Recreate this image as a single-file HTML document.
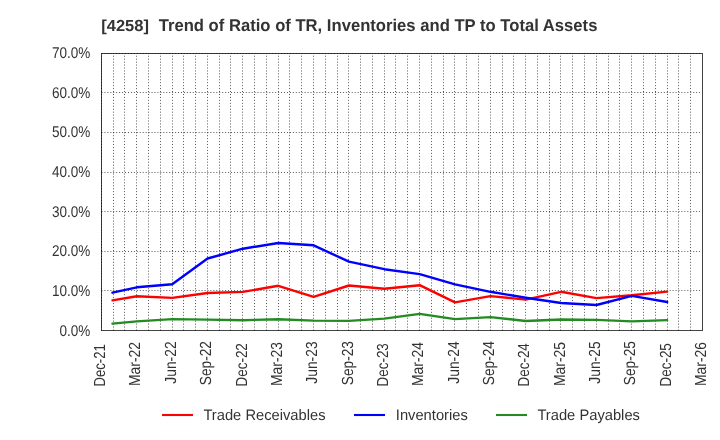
<!DOCTYPE html>
<html><head><meta charset="utf-8"><style>
html,body{margin:0;padding:0;background:#fff;overflow:hidden;}
svg{display:block;}
text{font-family:"Liberation Sans",sans-serif;fill:#333;filter:grayscale(1);text-rendering:geometricPrecision;}
.t{font-size:15.55px;}
.lg{font-size:15.1px;}
.g{stroke:#000;stroke-opacity:0.67;stroke-width:1;stroke-dasharray:0.981 1.963;fill:none;}
.d{fill:none;stroke-width:2.4;stroke-linejoin:round;stroke-linecap:round;}
</style></head><body>
<svg width="720" height="440" viewBox="0 0 720 440">
<rect width="720" height="440" fill="#fff"/>
<text x="101.3" y="30.5" textLength="47.6" lengthAdjust="spacingAndGlyphs" style="font-size:16px;font-weight:bold;">[4258]</text>
<text x="158.7" y="30.5" textLength="438.7" lengthAdjust="spacingAndGlyphs" style="font-size:17px;font-weight:bold;">Trend of Ratio of TR, Inventories and TP to Total Assets</text>
<rect x="101.5" y="53.5" width="601" height="277" fill="none" stroke="#444" stroke-width="1"/>
<line x1="101.5" y1="290.5" x2="702" y2="290.5" class="g"/>
<line x1="101.5" y1="251.5" x2="702" y2="251.5" class="g"/>
<line x1="101.5" y1="211.5" x2="702" y2="211.5" class="g"/>
<line x1="101.5" y1="172.5" x2="702" y2="172.5" class="g"/>
<line x1="101.5" y1="132.5" x2="702" y2="132.5" class="g"/>
<line x1="101.5" y1="92.5" x2="702" y2="92.5" class="g"/>
<line x1="101.5" y1="53.5" x2="702" y2="53.5" class="g"/>
<line x1="101.5" y1="330.5" x2="101.5" y2="53.5" class="g"/>
<line x1="113.5" y1="330.5" x2="113.5" y2="53.5" class="g"/>
<line x1="124.5" y1="330.5" x2="124.5" y2="53.5" class="g"/>
<line x1="136.5" y1="330.5" x2="136.5" y2="53.5" class="g"/>
<line x1="148.5" y1="330.5" x2="148.5" y2="53.5" class="g"/>
<line x1="160.5" y1="330.5" x2="160.5" y2="53.5" class="g"/>
<line x1="172.5" y1="330.5" x2="172.5" y2="53.5" class="g"/>
<line x1="183.5" y1="330.5" x2="183.5" y2="53.5" class="g"/>
<line x1="195.5" y1="330.5" x2="195.5" y2="53.5" class="g"/>
<line x1="207.5" y1="330.5" x2="207.5" y2="53.5" class="g"/>
<line x1="219.5" y1="330.5" x2="219.5" y2="53.5" class="g"/>
<line x1="230.5" y1="330.5" x2="230.5" y2="53.5" class="g"/>
<line x1="242.5" y1="330.5" x2="242.5" y2="53.5" class="g"/>
<line x1="254.5" y1="330.5" x2="254.5" y2="53.5" class="g"/>
<line x1="266.5" y1="330.5" x2="266.5" y2="53.5" class="g"/>
<line x1="278.5" y1="330.5" x2="278.5" y2="53.5" class="g"/>
<line x1="289.5" y1="330.5" x2="289.5" y2="53.5" class="g"/>
<line x1="301.5" y1="330.5" x2="301.5" y2="53.5" class="g"/>
<line x1="313.5" y1="330.5" x2="313.5" y2="53.5" class="g"/>
<line x1="325.5" y1="330.5" x2="325.5" y2="53.5" class="g"/>
<line x1="337.5" y1="330.5" x2="337.5" y2="53.5" class="g"/>
<line x1="348.5" y1="330.5" x2="348.5" y2="53.5" class="g"/>
<line x1="360.5" y1="330.5" x2="360.5" y2="53.5" class="g"/>
<line x1="372.5" y1="330.5" x2="372.5" y2="53.5" class="g"/>
<line x1="384.5" y1="330.5" x2="384.5" y2="53.5" class="g"/>
<line x1="395.5" y1="330.5" x2="395.5" y2="53.5" class="g"/>
<line x1="407.5" y1="330.5" x2="407.5" y2="53.5" class="g"/>
<line x1="419.5" y1="330.5" x2="419.5" y2="53.5" class="g"/>
<line x1="431.5" y1="330.5" x2="431.5" y2="53.5" class="g"/>
<line x1="443.5" y1="330.5" x2="443.5" y2="53.5" class="g"/>
<line x1="454.5" y1="330.5" x2="454.5" y2="53.5" class="g"/>
<line x1="466.5" y1="330.5" x2="466.5" y2="53.5" class="g"/>
<line x1="478.5" y1="330.5" x2="478.5" y2="53.5" class="g"/>
<line x1="490.5" y1="330.5" x2="490.5" y2="53.5" class="g"/>
<line x1="502.5" y1="330.5" x2="502.5" y2="53.5" class="g"/>
<line x1="513.5" y1="330.5" x2="513.5" y2="53.5" class="g"/>
<line x1="525.5" y1="330.5" x2="525.5" y2="53.5" class="g"/>
<line x1="537.5" y1="330.5" x2="537.5" y2="53.5" class="g"/>
<line x1="549.5" y1="330.5" x2="549.5" y2="53.5" class="g"/>
<line x1="560.5" y1="330.5" x2="560.5" y2="53.5" class="g"/>
<line x1="572.5" y1="330.5" x2="572.5" y2="53.5" class="g"/>
<line x1="584.5" y1="330.5" x2="584.5" y2="53.5" class="g"/>
<line x1="596.5" y1="330.5" x2="596.5" y2="53.5" class="g"/>
<line x1="608.5" y1="330.5" x2="608.5" y2="53.5" class="g"/>
<line x1="619.5" y1="330.5" x2="619.5" y2="53.5" class="g"/>
<line x1="631.5" y1="330.5" x2="631.5" y2="53.5" class="g"/>
<line x1="643.5" y1="330.5" x2="643.5" y2="53.5" class="g"/>
<line x1="655.5" y1="330.5" x2="655.5" y2="53.5" class="g"/>
<line x1="667.5" y1="330.5" x2="667.5" y2="53.5" class="g"/>
<line x1="678.5" y1="330.5" x2="678.5" y2="53.5" class="g"/>
<line x1="690.5" y1="330.5" x2="690.5" y2="53.5" class="g"/>
<polyline points="112.50,300.40 136.85,296.20 172.21,297.90 207.56,293.00 242.91,291.90 278.26,285.80 313.62,296.90 348.97,285.50 384.32,288.70 419.68,285.20 455.03,302.40 490.38,296.10 525.74,299.60 561.09,291.80 596.44,298.10 631.79,295.30 667.15,291.60" stroke="#ff0000" class="d"/>
<polyline points="112.50,292.70 136.85,287.30 172.21,284.20 207.56,258.50 242.91,248.70 278.26,243.00 313.62,245.30 348.97,261.70 384.32,269.20 419.68,274.10 455.03,284.30 490.38,291.80 525.74,297.80 561.09,303.00 596.44,305.00 631.79,295.90 667.15,302.00" stroke="#0000ff" class="d"/>
<polyline points="112.50,323.60 136.85,321.40 172.21,319.10 207.56,319.60 242.91,320.20 278.26,319.20 313.62,320.60 348.97,320.90 384.32,318.60 419.68,313.90 455.03,319.10 490.38,317.10 525.74,321.00 561.09,319.50 596.44,319.90 631.79,321.40 667.15,320.10" stroke="#228b22" class="d"/>
<g style="filter:grayscale(1)">
<text transform="translate(90.3,336.1) scale(0.87,1)" text-anchor="end" class="t">0.0%</text>
<text transform="translate(90.3,295.7) scale(0.87,1)" text-anchor="end" class="t">10.0%</text>
<text transform="translate(90.3,256.2) scale(0.87,1)" text-anchor="end" class="t">20.0%</text>
<text transform="translate(90.3,216.6) scale(0.87,1)" text-anchor="end" class="t">30.0%</text>
<text transform="translate(90.3,177.0) scale(0.87,1)" text-anchor="end" class="t">40.0%</text>
<text transform="translate(90.3,137.4) scale(0.87,1)" text-anchor="end" class="t">50.0%</text>
<text transform="translate(90.3,97.9) scale(0.87,1)" text-anchor="end" class="t">60.0%</text>
<text transform="translate(90.3,58.3) scale(0.87,1)" text-anchor="end" class="t">70.0%</text>
<text transform="translate(105.10,365.35) rotate(-90) scale(0.8174,1)" text-anchor="middle" style="font-size:16px">Dec-21</text>
<text transform="translate(140.45,364.00) rotate(-90) scale(0.8678,1)" text-anchor="middle" style="font-size:16px">Mar-22</text>
<text transform="translate(175.81,362.55) rotate(-90) scale(0.8653,1)" text-anchor="middle" style="font-size:16px">Jun-22</text>
<text transform="translate(211.16,363.15) rotate(-90) scale(0.8550,1)" text-anchor="middle" style="font-size:16px">Sep-22</text>
<text transform="translate(246.51,364.80) rotate(-90) scale(0.8379,1)" text-anchor="middle" style="font-size:16px">Dec-22</text>
<text transform="translate(281.86,364.00) rotate(-90) scale(0.8678,1)" text-anchor="middle" style="font-size:16px">Mar-23</text>
<text transform="translate(317.22,362.55) rotate(-90) scale(0.8653,1)" text-anchor="middle" style="font-size:16px">Jun-23</text>
<text transform="translate(352.57,363.15) rotate(-90) scale(0.8550,1)" text-anchor="middle" style="font-size:16px">Sep-23</text>
<text transform="translate(387.92,364.80) rotate(-90) scale(0.8379,1)" text-anchor="middle" style="font-size:16px">Dec-23</text>
<text transform="translate(423.28,364.00) rotate(-90) scale(0.8678,1)" text-anchor="middle" style="font-size:16px">Mar-24</text>
<text transform="translate(458.63,362.55) rotate(-90) scale(0.8653,1)" text-anchor="middle" style="font-size:16px">Jun-24</text>
<text transform="translate(493.98,363.15) rotate(-90) scale(0.8550,1)" text-anchor="middle" style="font-size:16px">Sep-24</text>
<text transform="translate(529.34,364.80) rotate(-90) scale(0.8379,1)" text-anchor="middle" style="font-size:16px">Dec-24</text>
<text transform="translate(564.69,364.00) rotate(-90) scale(0.8678,1)" text-anchor="middle" style="font-size:16px">Mar-25</text>
<text transform="translate(600.04,362.55) rotate(-90) scale(0.8653,1)" text-anchor="middle" style="font-size:16px">Jun-25</text>
<text transform="translate(635.39,363.15) rotate(-90) scale(0.8550,1)" text-anchor="middle" style="font-size:16px">Sep-25</text>
<text transform="translate(670.75,364.80) rotate(-90) scale(0.8379,1)" text-anchor="middle" style="font-size:16px">Dec-25</text>
<text transform="translate(706.10,364.00) rotate(-90) scale(0.8678,1)" text-anchor="middle" style="font-size:16px">Mar-26</text>
</g>
<line x1="162" y1="415" x2="193" y2="415" stroke="#ff0000" stroke-width="2.1"/>
<text transform="translate(203.4,419.6) scale(0.975,1)" class="lg">Trade Receivables</text>
<line x1="354" y1="415" x2="385" y2="415" stroke="#0000ff" stroke-width="2.1"/>
<text transform="translate(395.8,419.6) scale(0.975,1)" class="lg">Inventories</text>
<line x1="496" y1="415" x2="527" y2="415" stroke="#228b22" stroke-width="2.1"/>
<text transform="translate(537.4,419.6) scale(0.975,1)" class="lg">Trade Payables</text>
</svg>
</body></html>
